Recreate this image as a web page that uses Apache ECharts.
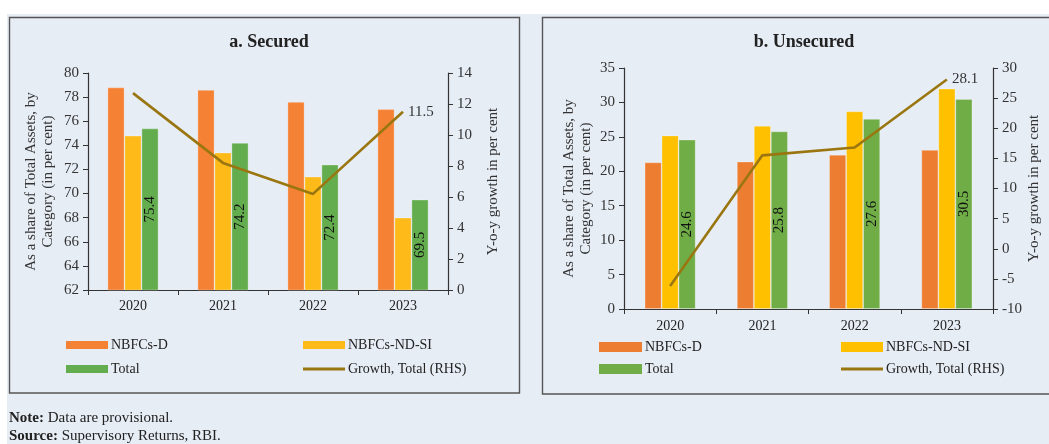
<!DOCTYPE html>
<html>
<head>
<meta charset="utf-8">
<script src="https://cdn.jsdelivr.net/npm/echarts@6/dist/echarts.min.js"></script>
<style>
html,body{margin:0;padding:0;background:#ffffff;}
#c{width:1049px;height:444px;}
</style>
</head>
<body>
<div id="c"></div>
<script>
// ---- data ----
var years = ['2020', '2021', '2022', '2023'];
var securedD = [78.8, 78.6, 77.6, 77.0];
var securedNDSI = [74.8, 73.4, 71.4, 68.0];
var securedTotal = [75.4, 74.2, 72.4, 69.5];
var securedGrowth = [12.7, 8.2, 6.2, 11.5];
var unsecuredD = [21.3, 21.4, 22.4, 23.1];
var unsecuredNDSI = [25.2, 26.6, 28.7, 32.0];
var unsecuredTotal = [24.6, 25.8, 27.6, 30.5];
var unsecuredGrowth = [-6.2, 15.5, 16.8, 28.1];
var titles = ['a. Secured', 'b. Unsecured'];
var seriesNames = ['NBFCs-D', 'NBFCs-ND-SI', 'Total', 'Growth, Total (RHS)'];
var leftAxisName = 'As a share of Total Assets, by\nCategory (in per cent)';
var rightAxisName = 'Y-o-y growth in per cent';

var SERIF = '"Liberation Serif", "DejaVu Serif", serif';
var colorsA = ['#F58134', '#FDBA18', '#64AD4F', '#9A7611'];
var colorsB = ['#ED7D31', '#FFC000', '#70AD47', '#9A7611'];
var axisColor = '#333333';

function yAxisBase(min, max, interval, pos, gridIndex, name, gap) {
  return {
    type: 'value', gridIndex: gridIndex, position: pos,
    min: min, max: max, interval: interval,
    name: name, nameLocation: 'middle', nameGap: gap, nameRotate: 90,
    nameTextStyle: {fontFamily: SERIF, fontSize: 15, color: '#333', lineHeight: 17},
    axisLine: {show: true, lineStyle: {color: axisColor, width: 1.2}},
    axisTick: {show: true, inside: false, length: 5, lineStyle: {color: axisColor}},
    axisLabel: {fontFamily: SERIF, fontSize: 15, color: '#333', margin: 9},
    splitLine: {show: false}
  };
}

function xAxisBase(gridIndex, margin) {
  return {
    type: 'category', gridIndex: gridIndex, data: years,
    axisLine: {show: true, lineStyle: {color: axisColor, width: 1.2}},
    axisTick: {show: true, alignWithLabel: false, length: 5, lineStyle: {color: axisColor}},
    axisLabel: {fontFamily: SERIF, fontSize: 14, color: '#222', margin: margin},
    splitLine: {show: false}
  };
}

function barSeries(name, data, color, xi, yi, showLabel) {
  var s = {
    name: name, type: 'bar', xAxisIndex: xi, yAxisIndex: yi, data: data,
    barWidth: 17, barGap: '0%',
    itemStyle: {color: color, borderColor: 'rgba(255,255,255,0.35)', borderWidth: 0.8},
    emphasis: {disabled: true}
  };
  if (showLabel) {
    s.label = {show: true, position: 'inside', rotate: 90, color: '#111',
      fontFamily: SERIF, fontSize: 15};
  }
  return s;
}

function lineSeries(name, data, color, xi, yi) {
  return {
    name: name, type: 'line', xAxisIndex: xi, yAxisIndex: yi, data: data,
    symbol: 'none', lineStyle: {color: color, width: 2.6}, itemStyle: {color: color},
    endLabel: {show: true, distance: 5, color: '#333', fontFamily: SERIF, fontSize: 15,
      formatter: function (p) { return String(p.value); }},
    z: 5, emphasis: {disabled: true}
  };
}

function legendItem(name, color, left, top, isLine, w, h) {
  return {
    left: left, top: top, padding: 0, itemWidth: w, itemHeight: isLine ? 3 : h,
    selectedMode: false, icon: 'rect',
    data: [{name: name, icon: 'rect', itemStyle: {color: color, borderWidth: 0}}],
    textStyle: {fontFamily: SERIF, fontSize: 14, color: '#222', padding: [0, 0, 0, -2]}
  };
}

var chart = echarts.init(document.getElementById('c'), null, {renderer: 'canvas'});

var option = {
  animation: false,
  backgroundColor: '#ffffff',
  graphic: [
    {type: 'rect', shape: {x: 7, y: 14, width: 1042, height: 430}, style: {fill: '#E7EDF5'}, z: -10, silent: true},
    {type: 'rect', shape: {x: 9.5, y: 17.5, width: 510, height: 375.5}, style: {fill: 'none', stroke: '#555', lineWidth: 1.4}, z: -5, silent: true},
    {type: 'rect', shape: {x: 542.5, y: 17.5, width: 520, height: 376.5}, style: {fill: 'none', stroke: '#555', lineWidth: 1.4}, z: -5, silent: true},
    {type: 'text', left: 9, top: 411, style: {
      text: '{b|Note:} Data are provisional.',
      rich: {b: {fontWeight: 'bold', fontFamily: SERIF, fontSize: 15, fill: '#222'}},
      fontFamily: SERIF, fontSize: 15, fill: '#222'}},
    {type: 'text', left: 9, top: 429, style: {
      text: '{b|Source:} Supervisory Returns, RBI.',
      rich: {b: {fontWeight: 'bold', fontFamily: SERIF, fontSize: 15, fill: '#222'}},
      fontFamily: SERIF, fontSize: 15, fill: '#222'}}
  ],
  title: [
    {text: titles[0], left: 264, top: 28, textAlign: 'center',
      textStyle: {fontFamily: SERIF, fontSize: 18, fontWeight: 'bold', color: '#222'}},
    {text: titles[1], left: 799, top: 28, textAlign: 'center',
      textStyle: {fontFamily: SERIF, fontSize: 18, fontWeight: 'bold', color: '#222'}}
  ],
  legend: [
    legendItem(seriesNames[0], colorsA[0], 66, 338, false, 42, 8),
    legendItem(seriesNames[1], colorsA[1], 303, 338, false, 42, 8),
    legendItem(seriesNames[2], colorsA[2], 66, 362, false, 42, 8),
    legendItem(seriesNames[3], colorsA[3], 303, 362, true, 42, 8),
    legendItem(seriesNames[0], colorsB[0], 599, 340, false, 43, 10),
    legendItem(seriesNames[1], colorsB[1], 841, 340, false, 42, 10),
    legendItem(seriesNames[2], colorsB[2], 599, 362, false, 43, 10),
    legendItem(seriesNames[3], colorsB[3], 841, 362, true, 42, 10)
  ],
  grid: [
    {left: 88, right: 601, top: 73, bottom: 154, containLabel: false},
    {left: 624, right: 56, top: 68, bottom: 135, containLabel: false}
  ],
  xAxis: [xAxisBase(0, 9), xAxisBase(1, 10)],
  yAxis: [
    yAxisBase(62, 80, 2, 'left', 0, leftAxisName, 31),
    yAxisBase(0, 14, 2, 'right', 0, rightAxisName, 37),
    yAxisBase(0, 35, 5, 'left', 1, leftAxisName, 29),
    yAxisBase(-10, 30, 5, 'right', 1, rightAxisName, 32)
  ],
  series: [
    barSeries(seriesNames[0], securedD, colorsA[0], 0, 0, false),
    barSeries(seriesNames[1], securedNDSI, colorsA[1], 0, 0, false),
    barSeries(seriesNames[2], securedTotal, colorsA[2], 0, 0, true),
    lineSeries(seriesNames[3], securedGrowth, colorsA[3], 0, 1),
    barSeries(seriesNames[0], unsecuredD, colorsB[0], 1, 2, false),
    barSeries(seriesNames[1], unsecuredNDSI, colorsB[1], 1, 2, false),
    barSeries(seriesNames[2], unsecuredTotal, colorsB[2], 1, 2, true),
    lineSeries(seriesNames[3], unsecuredGrowth, colorsB[3], 1, 3)
  ]
};
chart.setOption(option);
</script>
</body>
</html>
